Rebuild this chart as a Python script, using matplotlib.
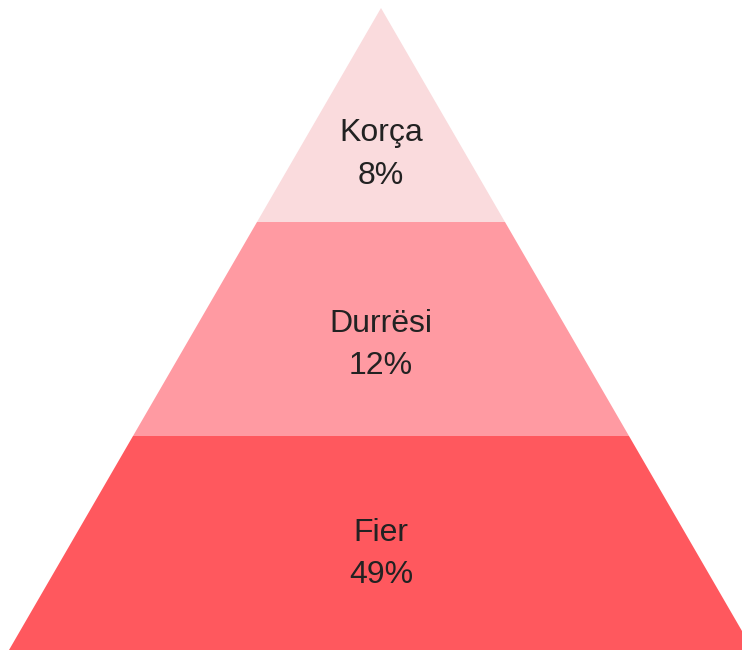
import matplotlib
matplotlib.use("Agg")
import matplotlib.pyplot as plt
from matplotlib.patches import Polygon

# Data (top to bottom)
names = ["Korça", "Durrësi", "Fier"]
shares = [8, 12, 49]
colors = ["#FADBDD", "#FF9AA2", "#FF585E"]

plt.rcParams['font.family'] = ['Liberation Sans', 'DejaVu Sans']

W, H = 742, 650
fig = plt.figure(figsize=(W / 100, H / 100), dpi=100)
ax = fig.add_axes([0, 0, 1, 1])

apex_x = 381.0        # pixel x of apex
apex_y = 8.0          # pixel y of apex
level_h = 214.0       # pixel height of each level
half_w = 124.0        # half-width growth per level (pixels)
text_dy = 4.0

n = len(names)
for i, (nm, v, c) in enumerate(zip(names, shares, colors)):
    y0 = apex_y + i * level_h
    y1 = apex_y + (i + 1) * level_h
    a = i * half_w
    b = (i + 1) * half_w
    poly = Polygon([(apex_x - a, y0), (apex_x + a, y0),
                    (apex_x + b, y1), (apex_x - b, y1)],
                   closed=True, facecolor=c, edgecolor='none')
    ax.add_patch(poly)
    # centroid of trapezoid from its top
    cy = y0 + level_h * (a + 2 * b) / (3 * (a + b)) + text_dy
    ax.text(apex_x, cy, f"{nm}\n{v}%", ha='center', va='center',
            fontsize=23, color='#222222', linespacing=1.55)

ax.set_xlim(0, W)
ax.set_ylim(H, 0)
ax.axis('off')
fig.savefig("out.png", dpi=100)
